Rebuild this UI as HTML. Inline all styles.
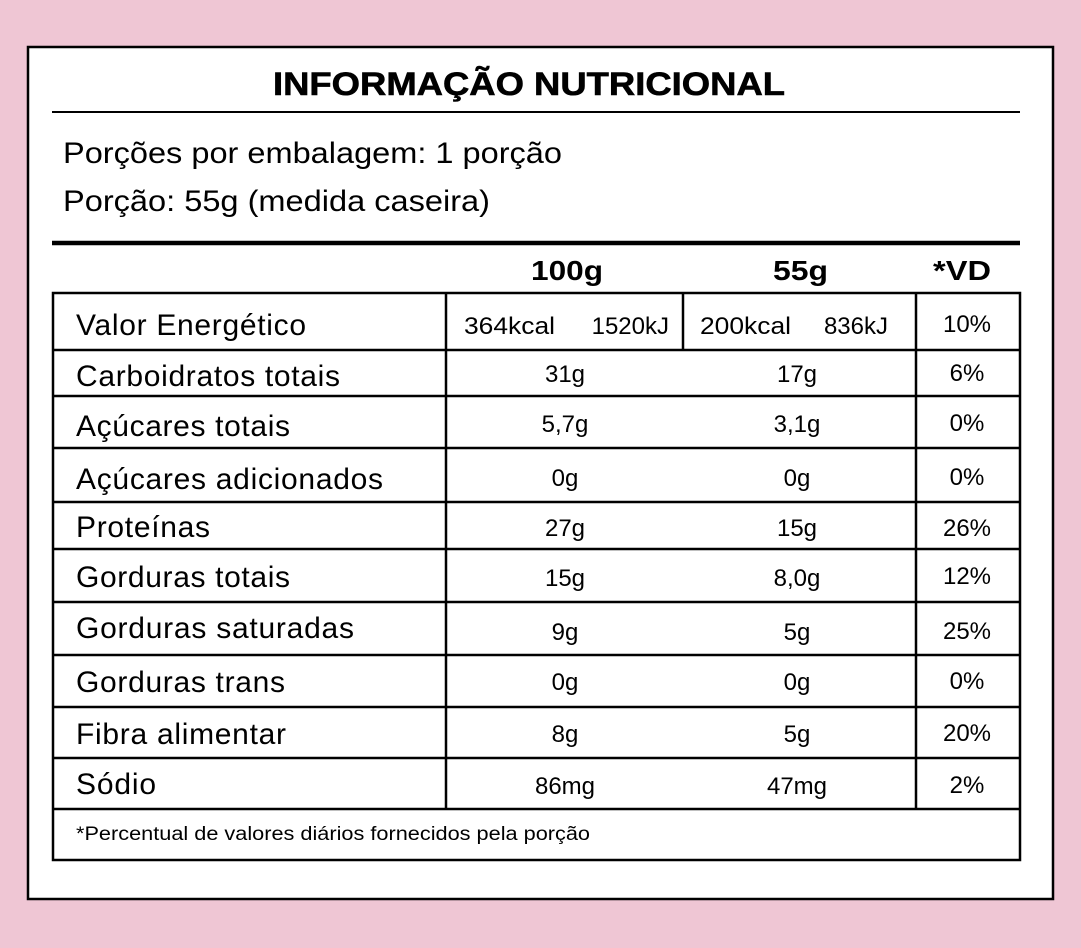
<!DOCTYPE html>
<html><head><meta charset="utf-8"><style>
body{margin:0;background:#efc6d4;}
svg{display:block;font-family:"Liberation Sans",Arial,sans-serif;}
</style></head><body>
<svg width="1081" height="948" viewBox="0 0 1081 948">
<rect x="0" y="0" width="1081" height="948" fill="#efc6d4"/>
<rect x="28" y="47" width="1025" height="852" fill="#fff" stroke="#000" stroke-width="2.5"/>
<text x="273" y="95" font-weight="bold" font-size="32" textLength="512" lengthAdjust="spacingAndGlyphs" stroke="#000" stroke-width="0.6">INFORMAÇÃO NUTRICIONAL</text>
<line x1="52" y1="112" x2="1020" y2="112" stroke="#000" stroke-width="2"/>
<text x="63" y="163" font-size="29.5" textLength="499" lengthAdjust="spacingAndGlyphs">Porções por embalagem: 1 porção</text>
<text x="63" y="211" font-size="29.5" textLength="427" lengthAdjust="spacingAndGlyphs">Porção: 55g (medida caseira)</text>
<line x1="52" y1="243" x2="1020" y2="243" stroke="#000" stroke-width="4.5"/>
<g font-weight="bold" font-size="28">
<text x="531" y="280" textLength="72" lengthAdjust="spacingAndGlyphs">100g</text>
<text x="773" y="280" textLength="55" lengthAdjust="spacingAndGlyphs">55g</text>
<text x="933" y="280" textLength="58" lengthAdjust="spacingAndGlyphs">*VD</text>
</g>
<g stroke="#000" stroke-width="2.5" fill="none">
<rect x="53" y="293" width="967" height="567"/>
<line x1="53" y1="350" x2="1020" y2="350"/>
<line x1="53" y1="396" x2="1020" y2="396"/>
<line x1="53" y1="448" x2="1020" y2="448"/>
<line x1="53" y1="502" x2="1020" y2="502"/>
<line x1="53" y1="549" x2="1020" y2="549"/>
<line x1="53" y1="602" x2="1020" y2="602"/>
<line x1="53" y1="655" x2="1020" y2="655"/>
<line x1="53" y1="707" x2="1020" y2="707"/>
<line x1="53" y1="758" x2="1020" y2="758"/>
<line x1="53" y1="809" x2="1020" y2="809"/>
<line x1="446" y1="293" x2="446" y2="809"/>
<line x1="916" y1="293" x2="916" y2="809"/>
<line x1="683" y1="293" x2="683" y2="350"/>
</g>
<g font-size="30" lengthAdjust="spacingAndGlyphs">
<text x="76" y="335" textLength="230">Valor Energético</text>
<text x="76" y="386" textLength="264">Carboidratos totais</text>
<text x="76" y="436" textLength="214">Açúcares totais</text>
<text x="76" y="489" textLength="307">Açúcares adicionados</text>
<text x="76" y="537" textLength="134">Proteínas</text>
<text x="76" y="587" textLength="214">Gorduras totais</text>
<text x="76" y="638" textLength="278">Gorduras saturadas</text>
<text x="76" y="692" textLength="209">Gorduras trans</text>
<text x="76" y="744" textLength="210">Fibra alimentar</text>
<text x="76" y="794" textLength="80">Sódio</text>
</g>
<g font-size="24">
<text x="464" y="334" textLength="91" lengthAdjust="spacingAndGlyphs">364kcal</text>
<text x="669" y="334" text-anchor="end">1520kJ</text>
<text x="700" y="334" textLength="91" lengthAdjust="spacingAndGlyphs">200kcal</text>
<text x="888" y="334" text-anchor="end">836kJ</text>
</g>
<g font-size="24" text-anchor="middle">
<text x="565" y="382">31g</text><text x="797" y="382">17g</text>
<text x="565" y="432">5,7g</text><text x="797" y="432">3,1g</text>
<text x="565" y="486">0g</text><text x="797" y="486">0g</text>
<text x="565" y="536">27g</text><text x="797" y="536">15g</text>
<text x="565" y="586">15g</text><text x="797" y="586">8,0g</text>
<text x="565" y="640">9g</text><text x="797" y="640">5g</text>
<text x="565" y="690">0g</text><text x="797" y="690">0g</text>
<text x="565" y="742">8g</text><text x="797" y="742">5g</text>
<text x="565" y="794">86mg</text><text x="797" y="794">47mg</text>
<text x="967" y="332">10%</text>
<text x="967" y="381">6%</text>
<text x="967" y="431">0%</text>
<text x="967" y="485">0%</text>
<text x="967" y="536">26%</text>
<text x="967" y="584">12%</text>
<text x="967" y="639">25%</text>
<text x="967" y="689">0%</text>
<text x="967" y="741">20%</text>
<text x="967" y="793">2%</text>
</g>
<text x="76" y="840" font-size="19" textLength="514" lengthAdjust="spacingAndGlyphs">*Percentual de valores diários fornecidos pela porção</text>
</svg>
</body></html>
